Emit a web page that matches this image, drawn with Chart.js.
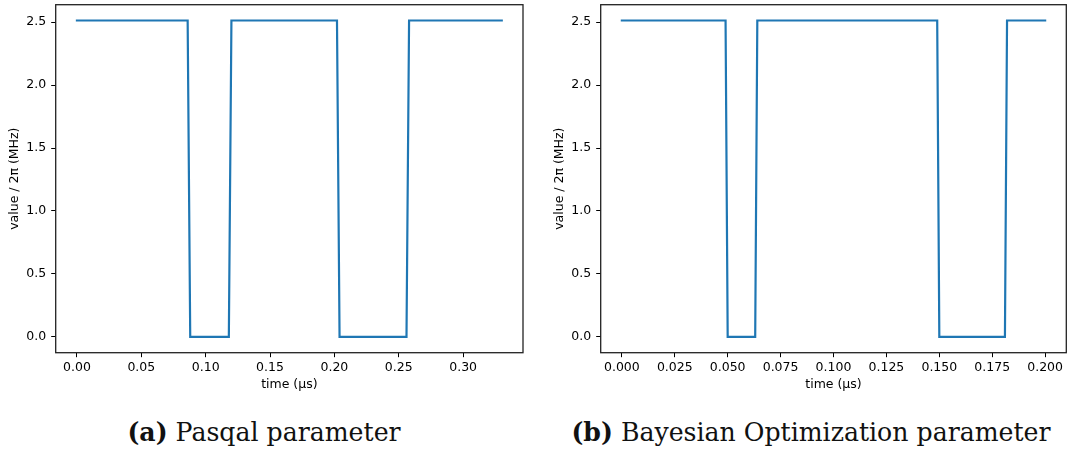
<!DOCTYPE html>
<html>
<head>
<meta charset="utf-8">
<script src="https://cdn.jsdelivr.net/npm/chart.js@4"></script>
<style>
    body { margin: 0; background: #fff; width: 1073px; height: 450px; position: relative; overflow: hidden; }
    .panel { position: absolute; top: 0; }
    .caption { position: absolute; top: 417px; font-family: "DejaVu Serif", serif; font-size: 25.2px; color: #111; white-space: nowrap; transform: translateX(-50%); }
    .caption b { font-weight: bold; }
</style>
</head>
<body>
<div class="panel" style="left:0px"><canvas id="chartA" width="536" height="400"></canvas></div>
<div class="panel" style="left:545px"><canvas id="chartB" width="528" height="400"></canvas></div>
<div class="caption" style="left:264px"><b>(a)</b> Pasqal parameter</div>
<div class="caption" style="left:811px"><b>(b)</b> Bayesian Optimization parameter</div>
<script>
// pulse amplitude (value / 2pi in MHz)
const amp = 2.513;

// (a) Pasqal parameter
const timeA = [0, 0.086, 0.088, 0.118, 0.120, 0.202, 0.204, 0.256, 0.258, 0.330];
const valueA = [amp, amp, 0, 0, amp, amp, 0, 0, amp, amp];
const xTicksA = [0, 0.05, 0.10, 0.15, 0.20, 0.25, 0.30];

// (b) Bayesian Optimization parameter
const timeB = [0, 0.049, 0.050, 0.063, 0.064, 0.149, 0.150, 0.181, 0.182, 0.200];
const valueB = [amp, amp, 0, 0, amp, amp, 0, 0, amp, amp];
const xTicksB = [0, 0.025, 0.050, 0.075, 0.100, 0.125, 0.150, 0.175, 0.200];

const yTicks = [0, 0.5, 1.0, 1.5, 2.0, 2.5];

const tickFont = { family: 'DejaVu Sans', size: 12.5 };

// matplotlib style full box around the plot area
const framePlugin = {
    id: 'frame',
    afterDraw(chart) {
        const a = chart.chartArea;
        const ctx = chart.ctx;
        ctx.save();
        ctx.strokeStyle = '#222';
        ctx.lineWidth = 1.3;
        ctx.strokeRect(a.left, a.top, a.right - a.left, a.bottom - a.top);
        ctx.restore();
    }
};

function makeChart(id, times, values, xTicks, decimals, padRight) {
    const tMax = times[times.length - 1];
    const yMax = Math.max(...values);
    const pts = times.map((t, i) => ({ x: t, y: values[i] }));
    return new Chart(document.getElementById(id).getContext('2d'), {
        type: 'scatter',
        data: {
            datasets: [{
                data: pts,
                showLine: true,
                borderColor: '#1f77b4',
                borderWidth: 2.2,
                borderCapStyle: 'square',
                pointRadius: 0,
                fill: false,
                tension: 0
            }]
        },
        options: {
            responsive: false,
            devicePixelRatio: 1,
            animation: false,
            layout: { padding: { top: 4.7, left: 0, right: padRight, bottom: 0 } },
            plugins: { legend: { display: false }, tooltip: { enabled: false } },
            scales: {
                x: {
                    type: 'linear',
                    min: -0.05 * tMax,
                    max: 1.05 * tMax,
                    afterBuildTicks: (axis) => { axis.ticks = xTicks.map(v => ({ value: v })); },
                    afterFit: (axis) => {
                        axis.height = 47.3;
                        axis.paddingLeft = 0;
                        axis.paddingRight = 0;
                    },
                    ticks: {
                        color: '#000',
                        font: tickFont,
                        padding: 3,
                        maxRotation: 0,
                        autoSkip: false,
                        callback: (v) => v.toFixed(decimals)
                    },
                    grid: { drawOnChartArea: false, drawTicks: true, tickLength: 4.5, color: '#000', lineWidth: 1 },
                    border: { display: false },
                    title: { display: true, text: 'time (µs)', color: '#000', font: tickFont, padding: { top: 0, bottom: 7.5 } }
                },
                y: {
                    type: 'linear',
                    min: -0.05 * yMax,
                    max: 1.05 * yMax,
                    afterBuildTicks: (axis) => { axis.ticks = yTicks.map(v => ({ value: v })); },
                    afterFit: (axis) => {
                        axis.width = 55.7;
                        axis.paddingTop = 0;
                        axis.paddingBottom = 0;
                    },
                    ticks: {
                        color: '#000',
                        font: tickFont,
                        padding: 5,
                        autoSkip: false,
                        callback: (v) => v.toFixed(1)
                    },
                    grid: { drawOnChartArea: false, drawTicks: true, tickLength: 4.5, color: '#000', lineWidth: 1 },
                    border: { display: false },
                    title: { display: true, text: 'value / 2π (MHz)', color: '#000', font: tickFont, padding: { top: 7, bottom: 0 } }
                }
            }
        },
        plugins: [framePlugin]
    });
}

makeChart('chartA', timeA, valueA, xTicksA, 2, 13);
makeChart('chartB', timeB, valueB, xTicksB, 3, 6.7);
</script>
</body>
</html>
